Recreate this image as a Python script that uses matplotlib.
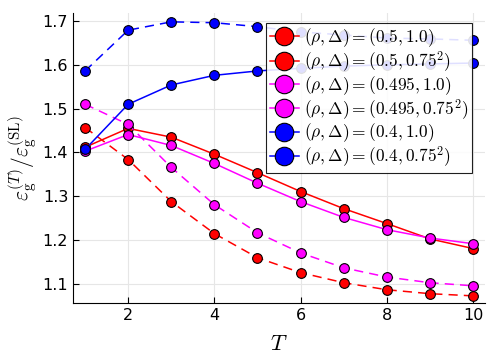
import matplotlib
matplotlib.use("Agg")
import matplotlib.pyplot as plt
import numpy as np

plt.rcParams['mathtext.fontset'] = 'cm'

T = [1, 2, 3, 4, 5, 6, 7, 8, 9, 10]

# valeurs
red_solid = [1.412, 1.455, 1.435, 1.396, 1.354, 1.311, 1.272, 1.238, 1.203, 1.181]
red_dash = [1.457, 1.384, 1.288, 1.215, 1.160, 1.126, 1.103, 1.087, 1.078, 1.073]
mag_solid = [1.403, 1.441, 1.416, 1.375, 1.330, 1.288, 1.252, 1.224, 1.205, 1.192]
mag_dash = [1.510, 1.464, 1.366, 1.281, 1.217, 1.171, 1.137, 1.116, 1.103, 1.096]
blue_solid = [1.407, 1.510, 1.554, 1.576, 1.586, 1.592, 1.597, 1.600, 1.602, 1.604]
blue_dash = [1.586, 1.679, 1.698, 1.696, 1.687, 1.675, 1.668, 1.661, 1.659, 1.656]

labels = [r"$(\rho,\Delta)=(0.5,1.0)$",
          r"$(\rho,\Delta)=(0.5,0.75^2)$",
          r"$(\rho,\Delta)=(0.495,1.0)$",
          r"$(\rho,\Delta)=(0.495,0.75^2)$",
          r"$(\rho,\Delta)=(0.4,1.0)$",
          r"$(\rho,\Delta)=(0.4,0.75^2)$"]

series = [red_solid, red_dash, mag_solid, mag_dash, blue_solid, blue_dash]
colors = ['#FF0000', '#FF0000', '#FF00FF', '#FF00FF', '#0000FF', '#0000FF']
styles = ['-', (0, (6, 4)), '-', (0, (6, 4)), '-', (0, (6, 4))]

fig = plt.figure(figsize=(4.98, 3.63), dpi=100)
ax = fig.add_axes([0.1466, 0.165, 0.8274, 0.799])

for y, c, ls, lab in zip(series, colors, styles, labels):
    ax.plot(T, y, color=c, linestyle=ls, linewidth=1.1, marker='o', markersize=7,
            markerfacecolor=c, markeredgecolor='black', markeredgewidth=0.8, label=lab)

ax.set_xlim(0.72, 10.28)
ax.set_ylim(1.0565, 1.718)
ax.set_xticks([2, 4, 6, 8, 10])
ax.set_yticks([1.1, 1.2, 1.3, 1.4, 1.5, 1.6, 1.7])
ax.tick_params(direction='in', labelsize=11.5, length=4, width=0.8)
ax.grid(True, color='#e6e6e6', linewidth=0.8)
ax.set_axisbelow(True)
for s in ['top', 'right']:
    ax.spines[s].set_visible(False)

ax.set_xlabel(r"$T$", fontsize=16, labelpad=8)
ax.set_ylabel(r"$\varepsilon_{\rm g}^{(T)}/\varepsilon_{\rm g}^{(\rm SL)}$", fontsize=15.5, labelpad=2)

leg = ax.legend(loc='upper right', bbox_to_anchor=(0.968, 0.966), fontsize=12.5, markerscale=1.9,
                handlelength=1.7, handletextpad=0.28, labelspacing=0.0, borderpad=0.2,
                borderaxespad=0.0,
                fancybox=False, framealpha=0.88, edgecolor='black')
leg.get_frame().set_linewidth(0.8)
for h in leg.get_lines():
    h.set_linestyle('-')

fig.savefig("out.png", dpi=100)
